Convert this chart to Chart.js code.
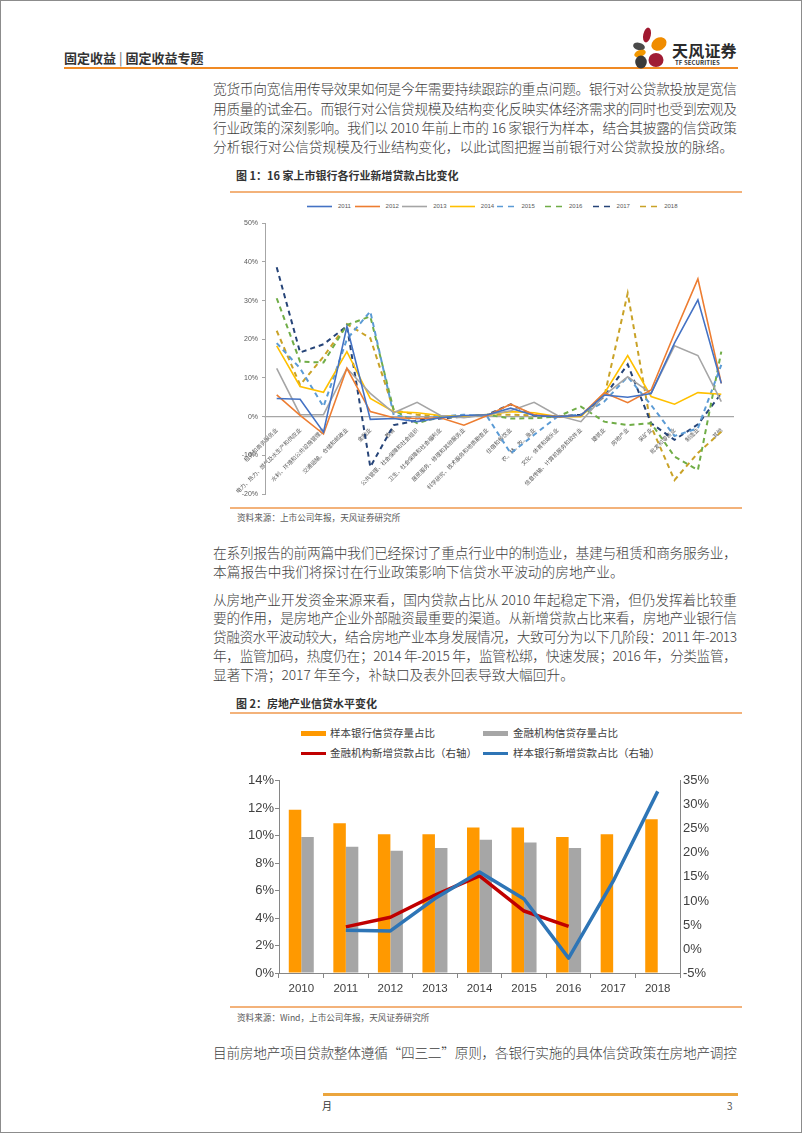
<!DOCTYPE html>
<html><head><meta charset="utf-8">
<script src="https://cdn.jsdelivr.net/npm/chart.js@4.4.1/dist/chart.umd.min.js"></script>
<style>
html,body{margin:0;padding:0;background:#fff;}
#page{position:relative;width:802px;height:1133px;overflow:hidden;font-family:"Noto Sans CJK SC","Noto Sans",sans-serif;color:#3c3c3c;}
#frame{position:absolute;left:0;top:0;width:802px;height:1133px;box-sizing:border-box;border:1px solid #8c8c8c;pointer-events:none;}
.abs{position:absolute;white-space:nowrap;}
.tl{position:absolute;left:213px;display:inline-block;white-space:nowrap;font-size:13.7px;line-height:20px;height:20px;color:#404040;font-weight:300;}
.hr{position:absolute;}
.ftitle{position:absolute;left:236px;font-size:11px;font-weight:bold;color:#333;white-space:nowrap;line-height:14px;}
.src{position:absolute;left:237px;font-size:8.6px;color:#595959;white-space:nowrap;line-height:12px;}
.lg2{position:absolute;font-size:10.5px;color:#404040;white-space:nowrap;line-height:14px;}
canvas{position:absolute;}
</style></head>
<body>
<div id="page">
  <!-- header -->
  <div class="abs" style="left:64px;top:49px;font-size:13px;font-weight:bold;color:#333;line-height:18px;">固定收益<span style="font-weight:normal;color:#666;margin:0 3px;">|</span>固定收益专题</div>
  <div class="hr" style="left:64px;top:67px;width:674px;height:2px;background:#F08A24;"></div>
  <svg class="abs" style="left:628px;top:24px;" width="44" height="48" viewBox="628 24 44 48">
    <ellipse cx="647" cy="35" rx="3.8" ry="7.5" transform="rotate(12 647 35)" fill="#A0182F"/>
    <ellipse cx="659" cy="44" rx="8" ry="6.3" transform="rotate(-30 659 44)" fill="#F08C00"/>
    <ellipse cx="639" cy="46.5" rx="6" ry="3.7" transform="rotate(15 639 46.5)" fill="#4a4a4a"/>
    <ellipse cx="640" cy="53.5" rx="6" ry="3.4" transform="rotate(-20 640 53.5)" fill="#F39800"/>
    <ellipse cx="641" cy="62" rx="5.8" ry="6.5" fill="#3a3a3a"/>
    <ellipse cx="656" cy="60" rx="7.5" ry="7" fill="#A01C34"/>
  </svg>
  <div class="abs" style="left:672px;top:40px;font-size:16px;font-weight:bold;color:#2b2b2b;line-height:20px;letter-spacing:0.2px;">天风证券</div>
  <div class="abs" style="left:675px;top:59px;font-size:6px;font-weight:bold;color:#333;line-height:8px;letter-spacing:0.1px;">TF SECURITIES</div>

  <!-- paragraph 1 -->
  <div class="tl fit" style="top:78px;">宽货币向宽信用传导效果如何是今年需要持续跟踪的重点问题。银行对公贷款投放是宽信</div>
  <div class="tl fit" style="top:98px;">用质量的试金石。而银行对公信贷规模及结构变化反映实体经济需求的同时也受到宏观及</div>
  <div class="tl fit" style="top:117px;">行业政策的深刻影响。我们以 2010 年前上市的 16 家银行为样本，结合其披露的信贷政策</div>
  <div class="tl" style="top:136px;">分析银行对公信贷规模及行业结构变化，以此试图把握当前银行对公贷款投放的脉络。</div>

  <!-- figure 1 -->
  <div class="ftitle" style="top:168px;">图 1：16 家上市银行各行业新增贷款占比变化</div>
  <div class="hr" style="left:230px;top:191px;width:512px;height:1.5px;background:#F3B27A;"></div>
  <div id="legend1"></div>
  <canvas id="c1" width="510" height="290" style="left:230px;top:215px;width:510px;height:290px;"></canvas>
  <div class="hr" style="left:230px;top:507px;width:512px;height:1.5px;background:#F3B27A;"></div>
  <div class="src" style="top:511px;">资料来源：上市公司年报，天风证券研究所</div>

  <!-- paragraph 2 -->
  <div class="tl fit" style="top:542px;">在系列报告的前两篇中我们已经探讨了重点行业中的制造业，基建与租赁和商务服务业，</div>
  <div class="tl" style="top:561px;">本篇报告中我们将探讨在行业政策影响下信贷水平波动的房地产业。</div>

  <!-- paragraph 3 -->
  <div class="tl fit" style="top:589px;">从房地产业开发资金来源来看，国内贷款占比从 2010 年起稳定下滑，但仍发挥着比较重</div>
  <div class="tl fit" style="top:607px;">要的作用，是房地产企业外部融资最重要的渠道。从新增贷款占比来看，房地产业银行信</div>
  <div class="tl fit" style="top:626px;">贷融资水平波动较大，结合房地产业本身发展情况，大致可分为以下几阶段：2011 年-2013</div>
  <div class="tl fit" style="top:645px;">年，监管加码，热度仍在；2014 年-2015 年，监管松绑，快速发展；2016 年，分类监管，</div>
  <div class="tl" style="top:664px;">显著下滑；2017 年至今，补缺口及表外回表导致大幅回升。</div>

  <!-- figure 2 -->
  <div class="ftitle" style="top:696px;">图 2：房地产业信贷水平变化</div>
  <div class="hr" style="left:230px;top:712px;width:512px;height:1.5px;background:#F3B27A;"></div>
  <div class="hr" style="left:301px;top:731px;width:25px;height:5px;background:#FF9900;"></div>
  <div class="lg2" style="left:330px;top:726px;">样本银行信贷存量占比</div>
  <div class="hr" style="left:483px;top:731px;width:25px;height:5px;background:#A6A6A6;"></div>
  <div class="lg2" style="left:513px;top:726px;">金融机构信贷存量占比</div>
  <div class="hr" style="left:301px;top:752px;width:25px;height:3px;background:#C00000;"></div>
  <div class="lg2" style="left:330px;top:746px;">金融机构新增贷款占比（右轴）</div>
  <div class="hr" style="left:483px;top:752px;width:25px;height:3px;background:#2E75B6;"></div>
  <div class="lg2" style="left:513px;top:746px;">样本银行新增贷款占比（右轴）</div>
  <canvas id="c2" width="510" height="235" style="left:230px;top:770px;width:510px;height:235px;"></canvas>
  <div class="hr" style="left:230px;top:1006px;width:512px;height:1.5px;background:#F3B27A;"></div>
  <div class="src" style="top:1011px;">资料来源：Wind，上市公司年报，天风证券研究所</div>

  <!-- paragraph 4 -->
  <div class="tl fit" style="top:1042px;">目前房地产项目贷款整体遵循“四三二”原则，各银行实施的具体信贷政策在房地产调控</div>

  <!-- footer -->
  <div class="hr" style="left:323px;top:1093px;width:415px;height:2.5px;background:#EBA53D;"></div>
  <div class="abs" style="left:322px;top:1099px;font-size:10px;color:#333;line-height:13px;">月</div>
  <div class="abs" style="left:727px;top:1099px;font-size:10px;color:#555;line-height:13px;">3</div>

  <div id="frame"></div>
</div>
<script>
// ---------- Figure 1 data ----------
const industries = ["租赁和商务服务业","电力、热力、燃气及水生产和供应业","水利、环境和公共设施管理业","交通运输、仓储和邮政业","金融业","教育","公共管理、社会保障和社会组织","卫生、社会保障和社会福利业","居民服务、修理和其他服务业","科学研究、技术服务和地质勘查业","住宿和餐饮业","农、林、牧、渔业","文化、体育和娱乐业","信息传输、计算机服务和软件业","建筑业","房地产业","采矿业","批发和零售业","制造业","其他"];
const seriesYears = ["2011","2012","2013","2014","2015","2016","2017","2018"];
const s2011 = [4.7,4.5,-4,23.3,-0.7,-0.5,-1.3,-0.3,0.3,0.5,2.2,0.3,0,0.3,5.6,5,6,19,30.2,8.6];
const s2012 = [5.6,0.3,-4.5,12.5,1.3,-0.3,-0.5,-0.3,-2.2,0.3,3.2,0.5,0,0.3,6.2,3.6,6.9,21.5,35.6,8.6];
const s2013 = [12.5,0.5,0.5,12.5,6,1,3.7,0.3,-0.3,0.5,1.5,3.7,0.3,-1.3,5.5,10.3,6,18.3,15.8,3.9];
const s2014 = [18.3,7.8,6.3,16.8,4.7,1.3,1,0.3,0,0.5,1.3,1,0,0,6,15.8,5.2,3.2,6.2,5.8];
const s2015 = [19,12.5,2.6,20,27.2,0.4,-0.5,0,0.5,0,-9.5,-4.7,0,0.5,3.9,10.3,3,-5,-3,13.4];
const s2016 = [30.6,14.2,14,23.7,25.9,1.7,-1.7,0,0,0.5,-0.5,-0.4,0,2.6,-1.3,-2.2,-1.7,-10.3,-13.8,16.8];
const s2017 = [38.6,16.6,18.7,23.4,-13,-2.2,-1,-0.5,0,0.5,3.2,0.3,0,0.5,5.2,13.5,-1.7,-6,-2,6];
const s2018 = [22.2,8.2,15.5,23.9,20.3,1.7,0.5,0,0,0.5,0.5,0.3,0,0.3,5.2,31.9,-2.5,-16.4,-9.4,-3.9];
const yTicks1 = [-20,-10,0,10,20,30,40,50];

// ---------- Figure 2 data ----------
const years = ["2010","2011","2012","2013","2014","2015","2016","2017","2018"];
const sampleStock = [11.9,10.9,10.1,10.1,10.6,10.6,9.9,10.1,11.2];
const finStock = [9.9,9.2,8.9,9.1,9.7,9.5,9.1,null,null];
const finNew = [null,4.6,6.6,11.2,15.2,7.9,4.7,null,null];
const sampleNew = [null,3.9,3.75,10.5,16.0,10.4,-1.9,14.1,32.8];
const leftTicks2 = [0,2,4,6,8,10,12,14];
const rightTicks2 = [-5,0,5,10,15,20,25,30,35];

// fit justified text lines
document.querySelectorAll('.fit').forEach(el => {
  el.style.letterSpacing = '0px';
  const w = el.getBoundingClientRect().width;
  const n = [...el.textContent].length;
  el.style.letterSpacing = ((524 - w) / (n - 1)) + 'px';
});

const numFont = "'Liberation Sans','Noto Sans CJK SC',sans-serif";
const cjkFont = "'Noto Sans CJK SC','Liberation Sans',sans-serif";

// ---------- Chart 1 ----------
const styles1 = [
  {c:'#4472C4',d:[]},{c:'#ED7D31',d:[]},{c:'#A5A5A5',d:[]},{c:'#FFC000',d:[]},
  {c:'#5B9BD5',d:[5,4]},{c:'#70AD47',d:[5,4]},{c:'#264478',d:[5,4]},{c:'#C9A227',d:[5,4]}
];
const data1 = [s2011,s2012,s2013,s2014,s2015,s2016,s2017,s2018];
const ds1 = data1.map((arr,i)=>({
  label: seriesYears[i], data: arr, borderColor: styles1[i].c, backgroundColor: styles1[i].c,
  borderDash: styles1[i].d, borderWidth: styles1[i].d.length ? 2 : 1.6,
  pointRadius: 0, tension: 0, fill: false
}));

// HTML legend for chart 1 built from dataset styles
const lg = document.getElementById('legend1');
ds1.forEach((d,i)=>{
  const x = 307 + i*47.6;
  const dashed = d.borderDash.length>0;
  const svg = `<svg class="abs" style="left:${x}px;top:204px" width="25" height="5"><line x1="0" y1="2.5" x2="${dashed?18:25}" y2="2.5" stroke="${d.borderColor}" stroke-width="1.6" ${dashed?'stroke-dasharray="6,5"':''}/></svg>`;
  lg.insertAdjacentHTML('beforeend', svg + `<div class="abs" style="left:${x+(dashed?24:31)}px;top:202px;font-size:6px;line-height:9px;color:#595959;font-family:${numFont}">${d.label}</div>`);
});

new Chart(document.getElementById('c1'), {
  type: 'line',
  data: { labels: industries, datasets: ds1 },
  options: {
    responsive: false, animation: false, devicePixelRatio: 1,
    layout: { padding: { left: 0, right: 7, top: 8, bottom: 11 } },
    plugins: { legend: { display: false }, tooltip: { enabled: false } },
    scales: {
      x: {
        type: 'category', offset: true, position: { y: 0 },
        grid: { display: false },
        border: { display: true, color: '#A6A6A6', width: 1.2 },
        ticks: { autoSkip: false, minRotation: 45, maxRotation: 45, padding: 2,
          font: { size: 5.6, family: cjkFont }, color: '#595959' }
      },
      y: {
        min: -20, max: 50,
        afterFit: s => { s.width = 35; },
        afterBuildTicks: s => { s.ticks = yTicks1.map(v => ({ value: v })); },
        grid: { drawOnChartArea: false, drawTicks: true, tickLength: 3, color: '#A6A6A6' },
        border: { display: true, color: '#A6A6A6' },
        ticks: { padding: 4, font: { size: 7, family: numFont }, color: '#595959',
          callback: v => v + '%' }
      }
    }
  }
});

// ---------- Chart 2 ----------
new Chart(document.getElementById('c2'), {
  type: 'bar',
  data: {
    labels: years,
    datasets: [
      { type: 'line', label: '样本银行新增贷款占比（右轴）', data: sampleNew, yAxisID: 'y1',
        borderColor: '#2E75B6', borderWidth: 3.5, pointRadius: 0, tension: 0, order: 0, borderJoinStyle: 'round' },
      { type: 'line', label: '金融机构新增贷款占比（右轴）', data: finNew, yAxisID: 'y1',
        borderColor: '#C00000', borderWidth: 3.5, pointRadius: 0, tension: 0, order: 1, borderJoinStyle: 'round' },
      { label: '样本银行信贷存量占比', data: sampleStock, yAxisID: 'y', backgroundColor: '#FF9900',
        categoryPercentage: 0.561, barPercentage: 1, order: 2 },
      { label: '金融机构信贷存量占比', data: finStock, yAxisID: 'y', backgroundColor: '#A6A6A6',
        categoryPercentage: 0.561, barPercentage: 1, order: 2 }
    ]
  },
  options: {
    responsive: false, animation: false, devicePixelRatio: 1,
    layout: { padding: { left: 0, right: 0, top: 8, bottom: 0 } },
    plugins: { legend: { display: false }, tooltip: { enabled: false } },
    scales: {
      x: {
        afterFit: s => { s.height = 32; },
        grid: { offset: true, drawOnChartArea: false, drawTicks: true, tickLength: 5, color: '#868686' },
        border: { display: true, color: '#868686' },
        ticks: { padding: 4, font: { size: 11.5, family: numFont }, color: '#404040' }
      },
      y: {
        position: 'left', min: 0, max: 14,
        afterFit: s => { s.width = 49; },
        afterBuildTicks: s => { s.ticks = leftTicks2.map(v => ({ value: v })); },
        grid: { drawOnChartArea: false, drawTicks: true, tickLength: 4, color: '#868686' },
        border: { display: true, color: '#868686' },
        ticks: { padding: 1, font: { size: 13, family: numFont }, color: '#404040', callback: v => v + '%' }
      },
      y1: {
        position: 'right', min: -5, max: 35,
        afterFit: s => { s.width = 60; },
        afterBuildTicks: s => { s.ticks = rightTicks2.map(v => ({ value: v })); },
        grid: { drawOnChartArea: false, drawTicks: false, color: '#868686' },
        border: { display: true, color: '#868686' },
        ticks: { padding: 3, font: { size: 13, family: numFont }, color: '#404040', callback: v => v + '%' }
      }
    }
  }
});
</script>
</body></html>
